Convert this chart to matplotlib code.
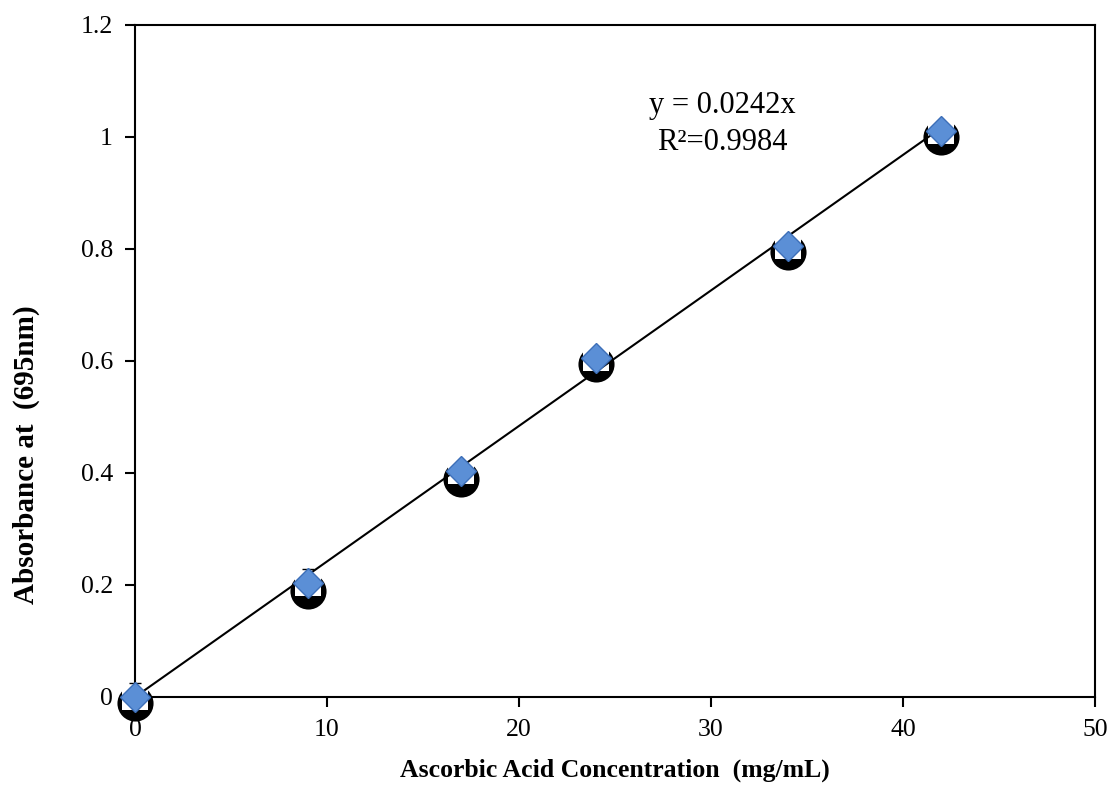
import matplotlib
matplotlib.use("Agg")
import matplotlib.pyplot as plt
import numpy as np

conc = [0, 9, 17, 24, 34, 42]
abs_mean = [0.0, 0.203, 0.404, 0.605, 0.806, 1.01]
abs_alt = [-0.01, 0.19, 0.39, 0.594, 0.795, 1.0]
abs_err = [0.025, 0.025, 0.0, 0.0, 0.0, 0.0]
slope = 0.0242
x_ticks = [0, 10, 20, 30, 40, 50]
y_ticks = [0, 0.2, 0.4, 0.6, 0.8, 1.0, 1.2]
y_tick_labels = ["0", "0.2", "0.4", "0.6", "0.8", "1", "1.2"]

plt.rcParams['font.family'] = ['Liberation Serif', 'DejaVu Serif']

fig = plt.figure(figsize=(11.12, 7.88), dpi=100)
ax = fig.add_axes([0.1214, 0.1155, 0.8633, 0.8528])

# black circle underlay with white square
ax.plot(conc, abs_alt, linestyle='none', marker='o', markersize=26,
        markerfacecolor='black', markeredgecolor='black', markeredgewidth=0,
        zorder=2)
ax.plot(conc, abs_mean, linestyle='none', marker='s', markersize=18.5,
        markerfacecolor='white', markeredgecolor='white', markeredgewidth=0,
        zorder=3)
ax.errorbar(conc, abs_mean, yerr=abs_err, fmt='none', ecolor='black',
            elinewidth=1.2, capsize=4, zorder=3.5)

# trendline
xs = np.array([conc[0], conc[-1]])
ax.plot(xs, slope * xs, color='black', linewidth=1.5, zorder=4)

# diamonds
ax.plot(conc, abs_mean, linestyle='none', marker='D', markersize=15,
        markerfacecolor='#5b8fd6', markeredgecolor='#3d6fb8',
        markeredgewidth=1.0, zorder=5)

ax.set_xlim(0, 50)
ax.set_ylim(0, 1.2)
ax.set_xticks(x_ticks)
ax.set_yticks(y_ticks)
ax.set_yticklabels(y_tick_labels)
ax.tick_params(direction='out', length=7, width=1.5, labelsize=18.5, pad=9)
for s in ax.spines.values():
    s.set_linewidth(1.5)
    s.set_color('black')
for ln in ax.lines:
    ln.set_clip_on(False)
for c in ax.collections:
    c.set_clip_on(False)

ax.set_xlabel('Ascorbic Acid Concentration  (mg/mL)', fontsize=18.5,
              fontweight='bold')
ax.xaxis.set_label_coords(0.5, -0.109)
ax.xaxis.label.set_va('center')
ax.set_ylabel('Absorbance at  (695nm)', fontsize=21, fontweight='bold')
ax.yaxis.set_label_coords(-0.113, 0.36)
ax.yaxis.label.set_va('center')

ax.text(30.6, 1.057, 'y = 0.0242x', fontsize=22, ha='center', va='center')
ax.text(30.6, 0.991, 'R²=0.9984', fontsize=22, ha='center', va='center')

fig.savefig('out.png', dpi=100)
